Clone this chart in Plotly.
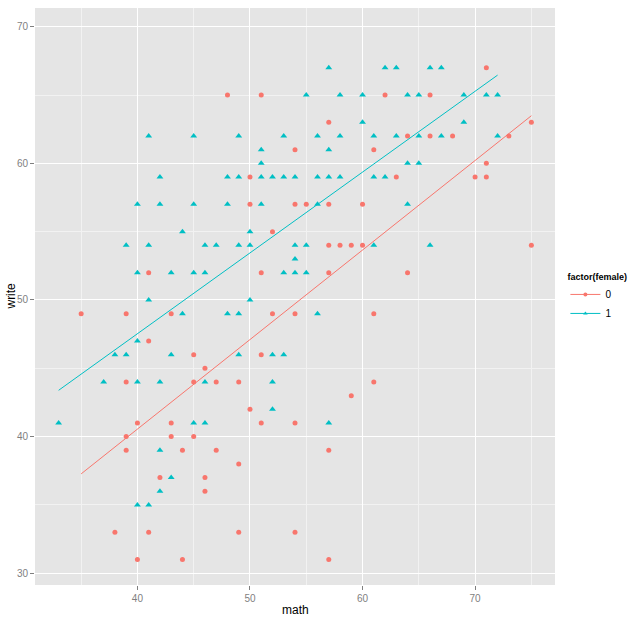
import numpy as np
import plotly.graph_objects as go

# math / write scores, split by factor(female)
male_math = [35, 39, 43, 41, 45, 46, 39, 45, 47, 40, 43, 39, 43, 45, 39, 44, 47, 42, 46, 46, 38, 41, 40, 44,
             50, 50, 52, 41, 51,
             52, 54, 61, 51, 49, 61, 59, 50, 51, 54, 57, 49, 49, 54, 57,
             48, 51, 62, 57, 54, 61, 54, 55, 57, 60, 57, 58, 59, 60, 57,
             71, 66, 75, 64, 66, 68, 73, 71, 63, 70, 71, 75, 64]
male_write = [49, 49, 49, 47, 46, 45, 44, 44, 44, 41, 41, 40, 40, 40, 39, 39, 39, 37, 37, 36, 33, 33, 31, 31,
              59, 57, 55, 52, 52,
              49, 49, 49, 46, 44, 44, 43, 42, 41, 41, 39, 38, 33, 33, 31,
              65, 65, 65, 63, 61, 61, 57, 57, 57, 57, 54, 54, 54, 54, 52,
              67, 65, 63, 62, 62, 62, 62, 60, 59, 59, 59, 54, 52]

female_math = [41, 44, 40, 38, 39, 43, 37, 40, 42, 46, 33, 45, 46, 42, 43, 42, 40, 41,
               41, 45, 49, 51, 51, 42, 48, 49, 51, 40, 42, 45, 48, 51, 44, 50, 39, 41, 46, 47, 49, 50,
               40, 43, 45, 46, 50,
               48, 49, 56, 49, 52, 53, 52, 52, 57,
               57, 62, 55, 58, 60, 60, 53, 56, 58, 61, 57, 52, 53, 54, 56, 57, 58, 61, 62, 56, 54, 55,
               61, 54, 53, 54, 55,
               63, 66, 67, 64, 65, 69, 71, 72, 69, 63, 65, 67, 72, 64, 65, 64, 66]
female_write = [50, 49, 47, 46, 46, 46, 44, 44, 44, 44, 41, 41, 41, 39, 37, 36, 35, 35,
                62, 62, 62, 61, 60, 59, 59, 59, 59, 57, 57, 57, 57, 57, 55, 55, 54, 54, 54, 54, 54, 54,
                52, 52, 52, 52, 50,
                49, 49, 49, 46, 46, 46, 44, 42, 41,
                67, 67, 65, 65, 65, 63, 62, 62, 62, 62, 61, 59, 59, 59, 59, 59, 59, 59, 59, 57, 54, 54,
                54, 53, 52, 52, 52,
                67, 67, 67, 65, 65, 65, 65, 65, 63, 62, 62, 62, 62, 60, 60, 57, 54]

groups = ["0", "1"]
colors = {"0": "#F8766D", "1": "#00BFC4"}
symbols = {"0": "circle", "1": "triangle-up"}
data = {"0": (male_math, male_write), "1": (female_math, female_write)}
FONT = "Liberation Sans, Arial"

fig = go.Figure()

for g in groups:
    xs, ys = np.array(data[g][0]), np.array(data[g][1])
    fig.add_trace(go.Scatter(
        x=xs, y=ys, mode="markers", showlegend=False,
        marker=dict(color=colors[g], symbol=symbols[g], size=5 if g == "0" else 6, line=dict(width=0)),
    ))
    # lm fit per group, drawn over each group's own x range
    slope, icpt = np.polyfit(xs, ys, 1)
    lx = np.array([xs.min(), xs.max()])
    fig.add_trace(go.Scatter(
        x=lx, y=icpt + slope * lx, mode="lines", showlegend=False,
        line=dict(color=colors[g], width=1),
    ))

# legend keys (line + point like ggplot)
for g in groups:
    fig.add_trace(go.Scatter(
        x=[None], y=[None], mode="lines+markers", name=g,
        line=dict(color=colors[g], width=1),
        marker=dict(color=colors[g], symbol=symbols[g], size=4),
    ))

axis_common = dict(
    showgrid=True, gridcolor="white", gridwidth=1.2,
    zeroline=False, showline=False, automargin=False,
    ticks="outside", ticklen=4, tickcolor="#7F7F7F",
    tickfont=dict(family=FONT, size=10, color="#7F7F7F"),
    minor=dict(dtick=5, showgrid=True, gridcolor="#F2F2F2", gridwidth=0.6),
    dtick=10,
)

fig.update_layout(
    width=640, height=623,
    margin=dict(l=35, r=85, t=8, b=38),
    plot_bgcolor="#E5E5E5", paper_bgcolor="white",
    xaxis=dict(range=[30.9, 77.1], **axis_common),
    yaxis=dict(range=[29.14, 71.37], **axis_common),
    legend=dict(
        title=dict(text="<b>factor(female)</b>", font=dict(family=FONT, size=9)),
        font=dict(family=FONT, size=10, color="black"),
        x=1.02, xanchor="left", y=0.497, yanchor="middle",
        itemwidth=30, bgcolor="rgba(0,0,0,0)",
    ),
    annotations=[
        dict(text="math", xref="paper", yref="paper", x=0.5, y=-0.0433, yanchor="middle",
             showarrow=False, font=dict(family=FONT, size=12, color="black")),
        dict(text="write", xref="paper", yref="paper", x=-0.048, xanchor="center", y=0.5,
             textangle=-90, showarrow=False, font=dict(family=FONT, size=12, color="black")),
    ],
)

# page body has an 8px default margin; drop it so the figure sits at the window's corner
fig.write_html("out.html", config={"displayModeBar": False},
               post_script="document.body.style.margin='0';")
